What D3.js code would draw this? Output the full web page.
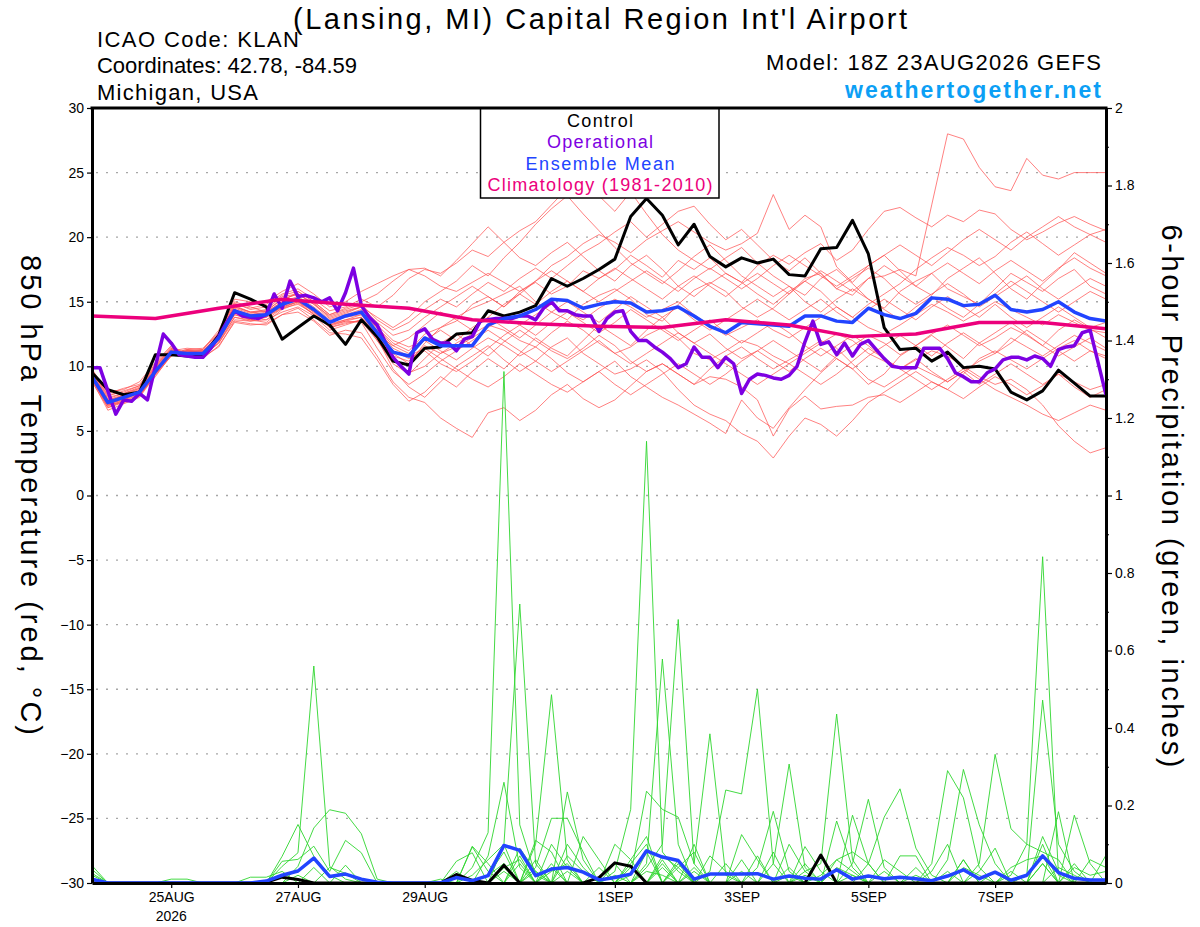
<!DOCTYPE html>
<html>
<head>
<meta charset="utf-8">
<script src="https://cdn.jsdelivr.net/npm/d3@7/dist/d3.min.js"></script>
<style>
  html,body{margin:0;padding:0;background:#fff;}
  svg text{font-family:"Liberation Sans",Arial,Helvetica,sans-serif;}
</style>
</head>
<body>
<svg id="chart" width="1200" height="927"></svg>
<script>
// ---------------- DATA ----------------
const runStart = "2026-08-23T18:00:00Z";
const stepHours = 6;        // ensemble / control / mean
const opStepHours = 3;      // operational run
const climStepHours = 24;   // climatology
const forecastHours = 384;

const tempTicks = [-30,-25,-20,-15,-10,-5,0,5,10,15,20,25,30];
const precipTicks = [0,0.2,0.4,0.6,0.8,1,1.2,1.4,1.6,1.8,2];
const precipMinorTicks = [0.1,0.3,0.5,0.7,0.9,1.1,1.3,1.5,1.7,1.9];
const xTickDates = ["2026-08-25T00:00:00Z","2026-08-27T00:00:00Z","2026-08-29T00:00:00Z","2026-09-01T00:00:00Z","2026-09-03T00:00:00Z","2026-09-05T00:00:00Z","2026-09-07T00:00:00Z"];
const xTickLabels = ["25AUG","27AUG","29AUG","1SEP","3SEP","5SEP","7SEP"];

const legendLabels = ["Control","Operational","Ensemble Mean","Climatology (1981-2010)"];

// 850 hPa temperature, control run (6-hourly)
const controlTemp = [9.5,8.2,7.8,8.0,10.9,10.9,10.8,10.8,12.4,15.7, 15.2,14.6,12.1,13.0,13.9,13.2,11.7,13.6,12.3,10.4, 10.1,11.4,11.5,12.5,12.6,14.3,13.9,14.2,14.7,16.8, 16.2,16.8,17.5,18.3,21.6,23.0,21.7,19.4,21.0,18.5, 17.7,18.4,18.0,18.3,17.1,17.0,19.1,19.2,21.3,18.7, 13.0,11.3,11.4,10.4,11.1,9.9,10.0,9.8,8.0,7.4, 8.1,9.7,8.7,7.7,7.7];

// ensemble mean (6-hourly)
const meanTemp = [9.2,7.2,7.6,8.0,9.6,11.1,11.0,11.0,12.2,14.3, 13.9,14.0,14.8,15.2,14.4,13.4,13.9,14.2,12.6,11.1, 10.8,12.2,11.6,11.6,11.6,13.2,13.7,13.9,14.4,15.2, 15.1,14.5,14.8,15.0,14.9,14.2,14.3,14.6,13.9,13.1, 12.6,13.4,13.3,13.2,13.1,13.9,13.9,13.5,13.4,14.5, 14.0,13.7,14.1,15.3,15.2,14.7,14.8,15.5,14.4,14.2, 14.4,15.0,14.2,13.7,13.5];

// operational (3-hourly)
const operationalTemp = [9.9,9.9,8.1,6.3,7.4,7.3,7.9,7.4,10.0,12.5, 11.8,10.9,10.8,10.7,10.7,11.4,12.3,13.4,14.3,13.9, 13.8,13.7,14.0,15.6,14.5,16.6,15.4,15.5,15.3,15.0, 15.3,14.3,15.7,17.6,14.7,13.8,13.2,11.9,10.7,10.0, 9.4,12.6,12.9,12.1,11.8,11.8,11.2,12.1,12.3,13.5, 13.6,13.7,13.7,13.7,13.9,13.9,13.6,14.5,15.0,14.3, 14.3,14.0,13.9,13.9,12.7,13.7,14.2,14.3,12.7,12.0, 12.0,11.5,11.1,10.6,9.9,10.2,11.5,10.7,10.7,9.9, 10.7,10.2,7.9,9.0,9.4,9.3,9.1,9.0,9.3,10.0, 11.9,13.5,11.7,11.9,10.9,11.8,10.8,11.7,12.0,11.3, 10.6,10.0,9.9,9.9,9.9,11.4,11.4,11.4,10.6,9.5, 9.2,8.8,8.8,9.5,9.8,10.5,10.7,10.7,10.5,10.8, 10.6,10.0,11.3,11.5,11.6,12.6,12.8,10.3,7.8];

// climatology 1981-2010 (daily)
const climTemp = [13.9,13.7,14.5,15.2,14.8,14.5,13.6,13.3,13.1,13.0,13.6,13.2,12.3,12.5,13.4,13.4,12.9];

// ensemble members, 850 hPa temperature (6-hourly)
const memberTemps = [
 [9.0,7.0,7.3,8.2,9.8,11.0,11.2,11.1,12.5,14.6, 14.2,14.4,15.4,15.6,14.8,13.9,14.3,14.6,13.0,11.8, 11.2,12.5,13.0,13.8,14.5,15.0,15.6,16.2,15.0,14.2, 13.6,14.8,15.5,16.0,15.2,14.0,13.5,14.8,15.9,16.5, 15.8,14.6,13.8,14.5,15.6,16.8,17.2,16.0,15.5,16.8, 17.0,17.5,17.0,22.5,28.0,27.6,25.4,23.9,23.6,26.1, 24.8,24.5,25.0,25.0,25.0],
 [9.4,7.5,7.9,8.3,9.9,11.3,11.0,10.9,12.0,14.0, 13.7,13.8,14.6,15.0,14.2,13.0,13.4,13.5,12.0,10.5, 9.5,10.0,11.0,11.8,12.5,13.2,12.8,12.0,11.5,12.6, 13.5,12.8,11.8,11.0,11.5,12.4,13.0,12.2,11.0,10.5, 11.2,12.0,11.6,10.8,10.2,11.0,11.8,12.5,12.0,11.0, 10.4,9.8,10.5,11.2,10.8,10.0,9.2,8.6,9.0,8.2, 7.0,5.4,4.2,3.3,3.7],
 [8.8,6.8,7.2,7.7,9.4,10.8,11.1,11.2,12.3,14.8, 14.5,14.8,15.6,16.0,15.2,14.3,14.6,15.2,14.6,15.5, 16.8,17.5,17.2,18.0,19.0,18.5,19.6,20.5,21.2,22.5, 23.8,24.5,23.2,22.0,23.5,21.8,20.2,19.0,18.2,17.5, 18.4,19.2,18.0,17.0,16.2,15.5,16.8,17.5,16.4,15.2, 14.5,15.8,16.6,17.2,16.0,15.4,14.8,16.0,17.2,16.5, 15.8,16.8,17.5,16.2,15.6],
 [9.6,7.8,8.0,8.5,10.1,11.4,11.0,10.8,11.8,13.6, 13.5,13.6,14.2,14.6,13.9,12.8,13.2,13.6,12.2,9.8, 8.4,7.6,8.8,10.0,10.8,11.6,10.5,9.6,10.4,11.5, 12.2,11.0,10.2,9.4,9.8,10.5,9.6,8.2,7.0,6.3, 5.8,4.8,4.2,2.9,4.6,6.0,5.5,4.6,5.8,7.2, 8.0,8.8,9.6,8.8,8.2,9.4,10.6,11.2,10.5,9.8, 10.6,11.4,12.0,11.2,10.8],
 [9.1,7.2,7.5,7.9,9.5,11.0,11.3,11.4,12.6,15.0, 14.6,14.2,15.0,15.8,15.0,14.0,14.5,15.0,15.6,16.6, 17.5,17.0,16.2,15.8,16.5,17.2,16.5,15.8,16.6,17.8, 18.5,19.5,20.2,19.6,18.8,19.8,20.5,21.2,20.4,19.6, 19.0,19.5,20.3,23.3,20.6,21.7,20.8,17.7,16.5,17.8, 18.6,17.4,16.2,15.5,16.8,17.6,18.4,17.2,16.0,15.2, 16.4,17.5,18.8,18.0,17.2],
 [9.3,7.4,7.7,8.1,9.7,11.2,10.9,10.8,12.0,14.2, 13.8,13.6,14.5,15.0,14.0,13.2,13.6,14.0,12.8,11.0, 10.2,11.8,13.0,13.5,14.8,15.4,14.6,15.8,16.5,15.6, 16.2,17.4,16.8,17.5,18.6,17.8,16.9,18.2,17.5,18.4, 17.2,16.5,17.8,18.6,17.9,18.8,19.5,18.2,19.0,20.6, 22.0,22.3,21.5,20.8,21.7,21.2,22.1,21.8,20.6,19.8, 20.4,21.1,21.6,21.0,20.5],
 [9.8,7.9,8.3,8.6,10.2,11.5,10.8,10.6,11.6,13.4, 13.2,13.3,14.0,14.2,13.5,12.4,12.8,12.6,10.8,8.8, 7.6,7.2,6.0,5.2,4.5,6.4,6.8,5.8,6.6,7.8, 8.6,7.5,6.8,7.4,8.5,9.6,10.2,9.4,8.6,9.8, 10.8,11.5,10.6,9.8,10.5,11.2,12.0,11.4,10.2,9.0, 8.4,9.2,10.0,9.4,8.8,9.6,10.4,11.0,12.2,11.5, 10.8,11.6,12.4,11.8,11.2],
 [9.0,6.9,7.4,7.8,9.2,10.9,11.2,11.0,12.4,14.4, 14.0,14.2,15.0,15.4,14.6,13.6,14.0,14.4,13.2,12.0, 11.5,12.0,11.2,10.5,11.4,12.2,11.6,10.8,11.5,10.6, 9.5,8.8,9.6,10.4,9.2,8.4,7.6,7.0,6.3,5.6, 4.8,7.4,6.0,5.2,6.8,8.2,9.5,10.6,9.8,8.6, 9.4,10.8,11.6,12.4,11.5,10.6,11.8,12.6,13.4,12.5, 11.6,12.8,13.6,12.9,12.2],
 [9.2,7.1,7.4,8.0,9.7,11.2,11.4,11.3,12.8,15.2, 15.0,15.0,15.8,16.4,15.6,14.6,15.0,15.8,16.4,17.0, 17.5,17.6,17.0,18.2,19.5,20.8,19.6,18.4,17.8,18.8, 19.6,18.5,17.4,16.6,17.8,18.6,17.5,16.2,15.4,16.4, 17.2,16.5,15.6,14.8,15.8,16.6,15.8,14.6,13.8,14.8, 15.6,16.4,17.5,18.4,19.2,18.6,17.8,18.5,19.6,20.4, 19.5,18.6,19.4,20.2,19.6],
 [9.5,7.6,7.9,8.4,10.0,11.3,11.0,11.1,12.1,14.1, 13.8,14.1,14.9,15.2,14.5,13.4,13.8,14.0,12.4,10.8, 10.4,11.6,11.0,11.5,12.2,13.0,13.8,13.2,14.0,14.8, 14.2,13.6,14.5,15.2,14.6,13.8,14.4,15.0,14.0,13.2, 12.4,13.0,13.6,12.8,12.2,13.0,13.8,14.6,13.8,13.0, 12.5,13.2,14.0,14.8,14.2,13.5,14.2,15.0,14.4,13.8, 13.2,14.0,13.4,12.8,12.6],
 [9.7,8.0,8.2,8.8,10.3,11.6,10.9,10.7,11.5,13.5, 13.3,13.2,14.0,14.5,13.6,12.6,12.5,12.2,10.5,8.6, 7.3,8.0,9.2,8.4,9.6,10.6,9.8,11.0,12.2,11.4, 10.8,12.0,13.2,12.4,11.6,12.8,13.8,12.6,11.8,12.5, 11.4,10.6,11.2,12.0,11.2,10.4,9.6,10.8,11.6,12.4, 11.8,10.9,11.6,12.5,13.2,12.4,11.6,12.2,13.0,12.4, 11.6,10.8,11.5,12.2,11.4],
 [8.9,6.6,7.1,7.6,9.3,10.8,11.2,11.3,12.6,14.9, 14.4,14.6,15.5,15.8,15.0,14.0,14.4,14.8,13.6,12.8, 13.4,14.4,15.2,14.6,15.6,16.5,15.8,16.8,17.6,16.8, 17.8,18.8,19.5,20.4,21.2,20.0,21.0,22.0,22.4,21.0, 19.8,20.6,19.4,18.2,17.4,18.4,17.2,16.0,16.8,17.6, 16.8,15.6,14.8,15.6,16.4,15.6,14.6,15.4,16.2,17.0, 16.0,15.2,16.0,16.8,16.2],
 [9.4,7.3,7.6,8.1,9.6,11.1,11.1,10.9,12.1,14.2, 13.6,13.9,14.7,15.1,14.2,13.3,13.6,13.8,12.0,10.2, 9.4,10.6,11.8,12.5,11.6,10.8,11.9,12.8,12.0,11.2, 10.6,11.4,12.4,11.6,10.4,9.6,10.2,9.4,8.6,9.2, 9.0,8.4,7.4,4.6,6.7,7.7,6.7,6.9,7.0,7.6, 7.8,7.2,8.0,8.8,8.2,7.5,8.4,9.2,8.6,7.8, 8.5,9.4,8.8,8.2,8.6],
 [9.0,7.0,7.5,7.9,9.5,11.0,11.3,11.2,12.4,14.5, 14.1,14.3,15.2,15.6,14.9,13.8,14.2,14.6,13.8,13.0, 13.8,15.0,15.8,16.6,17.8,17.0,18.4,19.6,21.0,22.2, 23.2,21.8,20.5,19.2,18.0,17.2,16.4,17.4,18.5,19.4, 18.2,17.0,16.2,15.4,16.2,15.0,14.2,15.2,16.0,15.2, 14.4,13.6,14.6,15.4,14.5,13.8,14.8,15.6,16.6,15.8, 15.0,14.2,15.0,15.8,15.2],
 [9.3,7.2,7.8,8.2,9.8,11.2,11.0,10.9,12.0,14.0, 13.6,13.9,14.6,15.0,14.3,13.2,13.5,13.8,12.6,11.2, 10.6,11.2,10.2,9.6,10.4,11.4,12.4,13.2,12.4,13.4, 14.2,13.4,12.6,13.4,14.4,13.6,12.8,12.0,12.8,13.6, 12.6,11.8,12.6,13.4,12.6,11.6,10.8,11.6,12.4,11.6, 10.6,9.8,10.6,9.6,8.8,9.6,8.6,9.4,10.2,9.4, 8.6,9.4,8.4,7.6,8.2],
 [9.1,7.0,7.2,7.7,9.4,10.9,11.2,11.2,12.4,14.6, 14.2,14.0,14.8,15.3,14.4,13.4,13.9,14.3,12.9,11.4, 10.8,11.4,10.6,9.8,9.0,8.4,9.2,10.2,9.4,8.6, 8.0,8.8,9.6,8.6,7.8,8.6,9.4,10.2,9.4,8.6, 9.4,10.4,11.2,10.4,9.6,10.6,11.4,10.6,9.8,10.8, 11.6,12.4,11.6,10.8,11.8,12.6,11.8,11.0,11.8,12.8, 12.0,11.2,10.4,11.2,10.6],
 [9.6,7.7,8.1,8.5,10.0,11.4,10.9,10.7,11.9,13.8, 13.5,13.8,14.5,14.8,14.1,13.0,13.3,13.6,12.4,11.6, 12.2,13.2,14.2,13.6,12.8,13.8,14.8,15.6,14.8,15.8, 16.6,15.8,15.0,15.8,16.6,17.4,16.6,15.8,16.8,17.6, 16.8,16.0,16.8,17.8,18.6,17.8,17.0,16.2,17.0,17.8, 18.6,19.4,18.6,17.8,18.8,19.8,20.6,19.8,19.0,20.0, 20.8,21.6,20.8,20.2,20.6],
 [9.2,7.3,7.7,8.0,9.6,11.1,11.1,11.0,12.2,14.3, 13.9,14.0,14.8,15.2,14.4,13.4,13.9,14.2,13.0,11.6, 11.0,12.0,12.8,12.0,13.0,13.8,13.0,12.2,13.2,14.2, 15.0,14.2,13.4,14.4,15.4,14.6,13.8,14.6,13.6,12.8, 13.6,14.4,15.2,14.4,13.6,14.4,15.2,14.2,13.4,14.4, 15.2,14.4,13.6,14.6,15.4,14.6,13.8,14.8,13.8,13.0, 13.8,14.6,13.8,13.0,13.4],
 [9.5,7.4,7.8,8.3,9.9,11.2,10.8,10.8,11.8,13.8, 13.6,13.4,14.4,14.9,14.0,13.1,13.5,13.4,11.4,9.6, 8.6,9.4,10.4,11.2,12.0,12.8,12.0,11.2,10.4,9.6, 10.4,11.2,12.0,11.0,10.2,11.0,11.8,12.6,11.8,11.0, 10.2,9.4,8.6,9.4,10.2,9.4,8.6,9.4,10.4,11.4, 10.6,9.8,9.0,8.2,9.0,9.8,9.0,8.2,7.6,7.0, 6.3,5.8,6.4,7.0,6.6],
 [9.0,6.8,7.3,7.8,9.4,11.0,11.2,11.1,12.5,14.7, 14.2,14.3,15.2,15.6,14.8,13.7,14.1,14.6,13.4,12.4, 12.8,13.8,14.6,15.4,16.2,15.4,14.6,15.6,16.6,17.4, 16.6,15.8,16.8,17.6,16.8,16.0,15.2,16.2,17.0,16.2, 15.4,16.4,17.2,16.4,15.6,16.6,17.4,16.6,15.8,16.8, 17.8,17.0,16.2,17.2,18.0,17.2,16.4,17.4,18.2,17.4, 16.6,17.6,18.4,17.6,17.0]
];

// 6-hour precipitation (inches), control and ensemble mean
const controlPrecip = [0,0,0,0,0, 0,0,0,0,0, 0,.002,.015,.009,0, 0,0,0,0,0, 0,0,0,.022,.007, 0,.046,0,0,0, 0,0,.014,.052,.043, 0,0,0,0,0, 0,0,0,0,0, 0,.072,0,0,0, 0,0,0,0,0, 0,0,0,0,0, 0,0,0,0,0];
const meanPrecip = [.01,0,0,0,0, 0,0,0,0,0, 0,.005,.02,.031,.064, .017,.023,.01,.002,0, 0,0,0,.014,.006, .019,.097,.084,.019,.036, .04,.028,.008,.014,.023, .083,.067,.058,.01,.023, .023,.023,.024,.01,.018, .012,.01,.034,.01,.018, .011,.015,.011,.006,.018, .034,.011,.028,.007,.02, .07,.027,.012,.008,.008];

// ensemble members, 6-hour precipitation (inches)
const memberPrecip = [
 [.045,0,0,0,0, 0,0,0,0,0, 0,0,.043,.078,.56, .043,.01,0,0,0, 0,0,0,0,0, .02,.05,0,0,0, 0,0,0,0,0, .03,.02,0,0,0, 0,0,0,0,.04, 0,0,0,.02,0, 0,0,0,0,0, 0,0,0,0,0, .05,0,0,0,0],
 [.035,0,0,0,0, 0,0,0,0,0, 0,0,.069,.151,.069, .02,0,0,0,0, 0,0,0,0,.04, .13,1.32,.15,.02,0, 0,0,0,0,.05, .1,0,0,0,0, 0,.03,0,0,0, 0,0,0,0,0, 0,0,0,0,0, .06,0,0,0,0, 0,0,0,0,0],
 [.025,0,0,0,0, 0,0,0,0,0, 0,0,0,.043,.142, .189,.18,.127,.01,0, 0,0,0,0,0, 0,.1,.72,.05,0, 0,0,0,.02,0, 0,.07,.04,0,0, 0,0,0,0,0, 0,0,0,0,0, 0,0,0,0,.03, 0,0,0,0,0, .1,0,0,0,0],
 [0,0,0,0,0, 0,0,0,0,0, 0,0,.056,.061,.095, .03,.11,.078,0,0, 0,0,0,.056,.078, 0,0,0,.1,.486, .06,0,0,0,0, 0,0,0,.04,0, 0,0,0,0,0, 0,0,.16,.04,0, 0,0,0,0,0, 0,0,0,0,0, 0,0,0,0,0],
 [0,0,0,0,0, 0,0,0,0,0, .015,.015,.03,0,.04, 0,.046,0,0,0, 0,0,0,0,.095, .05,0,0,0,0, 0,0,0,.03,.19, 1.14,.08,.03,0,0, 0,0,0,0,0, 0,0,0,0,.05, 0,0,0,0,0, 0,0,0,0,0, 0,.184,0,0,0],
 [.02,0,0,0,0, .01,.01,0,0,0, 0,0,0,.02,0, 0,0,0,0,0, 0,0,0,0,0, .07,.26,.04,0,0, 0,0,0,0,0, .04,.1,.68,.05,0, 0,0,0,0,.02, 0,0,0,0,0, 0,0,0,0,0, 0,.03,.09,0,0, 0,0,0,0,0],
 [0,0,0,0,0, 0,0,0,0,0, 0,0,0,0,0, 0,0,0,0,0, 0,0,0,0,.093, .03,0,0,.04,.167, .167,.08,0,0,0, .05,.578,.1,0,0, 0,0,0,0,0, .094,.03,0,0,0, 0,0,0,0,0, 0,0,0,0,0, 0,0,.175,.05,0],
 [0,0,0,0,0, 0,0,0,0,0, 0,0,0,0,0, 0,0,0,0,0, 0,0,0,0,0, 0,.04,.06,0,0, .235,.06,0,0,0, 0,0,0,0,.03, .24,.23,.5,.05,0, 0,0,0,0,0, 0,0,.02,0,0, 0,0,0,.04,.06, .07,0,0,0,.072],
 [0,0,0,0,0, 0,0,0,0,0, 0,0,0,0,0, 0,0,0,0,0, 0,0,0,0,0, .02,.08,0,.03,0, 0,0,0,0,.02, .237,.19,.17,.05,.385, .02,0,0,0,0, 0,0,0,0,0, 0,0,0,.03,.1, 0,0,0,0,0, 0,0,0,0,0],
 [0,0,0,0,0, 0,0,0,0,0, 0,0,0,0,0, 0,0,0,0,0, 0,0,0,0,0, 0,0,.05,0,.03, .05,0,0,.1,.06, 0,0,0,0,0, 0,0,.04,.185,.03, 0,0,0,0,0, 0,0,0,0,0, 0,0,0,.02,.1, .842,.02,0,0,0],
 [0,0,0,0,0, 0,0,0,0,0, 0,0,0,0,0, 0,0,0,0,0, 0,0,0,0,0, 0,0,0,0,.04, 0,.12,.06,0,0, 0,.05,0,0,0, 0,.125,.06,0,0, 0,0,.04,.02,0, 0,0,0,0,0, 0,0,0,0,.02, .472,.1,.03,0,0],
 [0,0,0,0,0, 0,0,0,0,0, 0,0,0,0,0, 0,0,0,0,0, 0,0,0,0,0, 0,.05,0,.11,.08, 0,0,0,0,0, 0,0,.04,.08,0, 0,0,0,0,.1, .03,.05,.436,.06,0, 0,0,0,0,0, .04,.02,0,0,0, 0,0,0,0,0],
 [0,0,0,0,0, 0,0,0,0,0, 0,0,0,0,0, 0,0,0,0,0, 0,0,0,.03,0, 0,0,.07,0,0, .1,.04,0,0,0, .08,0,0,0,0, 0,0,0,.05,.307, .04,0,0,.05,.216, .04,0,0,0,0, 0,0,0,.03,0, 0,0,0,0,0],
 [0,0,0,0,0, 0,0,0,0,0, 0,0,0,0,0, 0,0,0,0,0, 0,0,0,0,0, 0,.03,0,0,.05, 0,0,.04,0,0, 0,0,.06,0,.07, .03,0,0,0,0, 0,0,0,.175,.05, 0,0,0,0,0, 0,.05,.332,.14,.1, .08,.06,0,0,0],
 [0,0,0,0,0, 0,0,0,0,0, 0,0,0,0,0, 0,0,0,0,0, 0,0,0,0,0, 0,0,.09,.03,0, 0,0,0,0,0, 0,.04,0,.1,0, 0,0,0,0,0, 0,0,.06,.03,0, 0,0,0,.05,.29, .22,.04,0,0,0, 0,0,.05,0,0],
 [0,0,0,0,0, 0,0,0,0,0, 0,0,0,0,0, 0,0,0,0,0, 0,0,0,0,0, 0,0,0,0,0, .07,.03,0,0,.06, .12,0,0,0,0, 0,0,0,0,0, .03,0,0,0,0, 0,.07,.07,0,.06, .293,.15,.05,0,0, 0,0,0,.06,.04],
 [0,0,0,0,0, 0,0,0,0,0, 0,0,0,0,0, 0,0,0,0,0, 0,0,0,0,0, 0,.04,0,.06,0, 0,0,0,0,0, 0,0,0,.03,0, 0,.06,0,0,0, 0,.02,.06,.08,.05, .17,.243,.09,.02,0, 0,0,0,0,0, .12,.03,0,0,0],
 [0,0,0,0,0, 0,0,0,0,0, 0,0,0,0,0, 0,0,0,0,0, 0,0,0,0,0, 0,0,0,0,.1, .04,0,0,.05,0, 0,0,0,0,0, .05,0,0,.08,0, 0,0,0,0,0, .03,0,.04,0,0, 0,0,0,0,0, .05,0,.04,.02,.03],
 [0,0,0,0,0, 0,0,0,0,0, 0,0,0,0,0, 0,0,0,0,0, 0,0,0,0,.02, .06,.1,0,0,0, 0,0,0,0,0, 0,0,.05,0,0, 0,0,.07,0,0, .05,0,0,0,0, 0,0,0,0,0, .06,0,.03,0,0, 0,0,0,0,0],
 [0,0,0,0,0, 0,0,0,0,0, 0,0,0,0,0, .04,.025,0,0,0, 0,0,.01,0,0, 0,0,0,0,0, .03,0,0,0,.04, 0,.06,0,0,0, 0,0,0,0,0, .02,0,0,0,0, .06,.03,0,0,0, 0,0,0,0,0, 0,.04,.02,0,0]
];

// ---------------- COLOURS ----------------
const C = {
  member:"#ff5050", precip:"#2fd62f", control:"#000000",
  oper:"#7d00e2", mean:"#2244ff", clim:"#ec007c", site:"#0c9ff5"
};

// ---------------- CHART ----------------
const svg = d3.select("#chart");
const L = 92, R = 1106, T = 108, B = 883;
const t0 = new Date(runStart);
const atHour = h => new Date(t0.getTime() + h * 3600e3);

const x = d3.scaleUtc().domain([t0, atHour(forecastHours)]).range([L, R]);
const yT = d3.scaleLinear().domain([-30, 30]).range([B, T]);
const yP = d3.scaleLinear().domain([0, 2]).range([B, T]);

svg.append("rect").attr("width", 1200).attr("height", 927).attr("fill", "#fff");
svg.append("defs").append("clipPath").attr("id", "plotclip")
  .append("rect").attr("x", L).attr("y", T).attr("width", R - L).attr("height", B - T);

// gridlines
svg.append("g").selectAll("line")
  .data(tempTicks.filter(v => v > -30 && v < 30)).join("line")
  .attr("x1", L + 4).attr("x2", R).attr("y1", d => yT(d)).attr("y2", d => yT(d))
  .attr("stroke", "#a6a6a6").attr("stroke-width", 1.4).attr("stroke-dasharray", "2,8");

const plot = svg.append("g").attr("clip-path", "url(#plotclip)");
const tLine = step => d3.line().x((d, i) => x(atHour(i * step))).y(d => yT(d));
const pLine = d3.line().x((d, i) => x(atHour(i * stepHours))).y(d => yP(d));

plot.append("g").selectAll("path").data(memberTemps).join("path")
  .attr("d", tLine(stepHours)).attr("fill", "none")
  .attr("stroke", C.member).attr("stroke-width", 0.8).attr("stroke-opacity", 0.9);

plot.append("g").selectAll("path").data(memberPrecip).join("path")
  .attr("d", pLine).attr("fill", "none")
  .attr("stroke", C.precip).attr("stroke-width", 0.9);

plot.append("path").datum(controlPrecip).attr("d", pLine).attr("fill", "none")
  .attr("stroke", C.control).attr("stroke-width", 3).attr("stroke-linejoin", "round");
plot.append("path").datum(meanPrecip).attr("d", pLine).attr("fill", "none")
  .attr("stroke", C.mean).attr("stroke-width", 3.5).attr("stroke-linejoin", "round");

plot.append("path").datum(controlTemp).attr("d", tLine(stepHours)).attr("fill", "none")
  .attr("stroke", C.control).attr("stroke-width", 3).attr("stroke-linejoin", "round");
plot.append("path").datum(operationalTemp).attr("d", tLine(opStepHours)).attr("fill", "none")
  .attr("stroke", C.oper).attr("stroke-width", 3.5).attr("stroke-linejoin", "round");
plot.append("path").datum(meanTemp).attr("d", tLine(stepHours)).attr("fill", "none")
  .attr("stroke", C.mean).attr("stroke-width", 3.5).attr("stroke-linejoin", "round");
plot.append("path").datum(climTemp).attr("d", tLine(climStepHours)).attr("fill", "none")
  .attr("stroke", C.clim).attr("stroke-width", 3.5).attr("stroke-linejoin", "round");

// legend
const lg = svg.append("g");
lg.append("rect").attr("x", 480.5).attr("y", 108).attr("width", 238.5).attr("height", 90)
  .attr("fill", "#fff").attr("stroke", "#000").attr("stroke-width", 1.5);
const legendColors = [C.control, C.oper, C.mean, C.clim];
const legendWidths = [66, 106, 149, 225];
lg.selectAll("text").data(legendLabels).join("text")
  .attr("x", 600).attr("y", (d, i) => 127 + i * 21.4)
  .attr("text-anchor", "middle").attr("font-size", 18)
  .attr("fill", (d, i) => legendColors[i])
  .attr("textLength", (d, i) => legendWidths[i]).attr("lengthAdjust", "spacing")
  .text(d => d);

// axes
const fontFam = '"Liberation Sans",Arial,Helvetica,sans-serif';
const axL = svg.append("g").attr("transform", `translate(${L},0)`)
  .call(d3.axisLeft(yT).tickValues(tempTicks).tickSize(5).tickSizeOuter(0).tickPadding(3));
const axR = svg.append("g").attr("transform", `translate(${R},0)`)
  .call(d3.axisRight(yP).tickValues(precipTicks).tickSize(6).tickSizeOuter(0).tickPadding(3)
    .tickFormat(d => String(Math.round(d * 10) / 10)));
const axRm = svg.append("g").attr("transform", `translate(${R},0)`)
  .call(d3.axisRight(yP).tickValues(precipMinorTicks).tickSize(3).tickSizeOuter(0).tickFormat(""));
axRm.select(".domain").remove();
const axB = svg.append("g").attr("transform", `translate(0,${B})`)
  .call(d3.axisBottom(x).tickValues(xTickDates.map(d => new Date(d))).tickSize(5).tickSizeOuter(0).tickPadding(4)
    .tickFormat((d, i) => xTickLabels[i]));
[axL, axR, axB].forEach(a => {
  a.attr("font-size", 14).attr("font-family", fontFam);
  a.select(".domain").attr("stroke-width", 3);
  a.selectAll(".tick line").attr("stroke-width", 1.2);
});
svg.append("line").attr("x1", L - 1.5).attr("x2", R + 1.5).attr("y1", T).attr("y2", T)
  .attr("stroke", "#000").attr("stroke-width", 3);
svg.append("text").attr("x", x(new Date(xTickDates[0]))).attr("y", 921)
  .attr("text-anchor", "middle").attr("font-size", 14).text("2026");

// titles and header texts
svg.append("text").attr("x", 600).attr("y", 29).attr("text-anchor", "middle")
  .attr("font-size", 29).attr("textLength", 614).attr("lengthAdjust", "spacing")
  .text("(Lansing, MI) Capital Region Int'l Airport");
const leftInfo = [["ICAO Code: KLAN", 47, 202], ["Coordinates: 42.78, -84.59", 73, 260], ["Michigan, USA", 100, 161]];
svg.append("g").selectAll("text").data(leftInfo).join("text")
  .attr("x", 97).attr("y", d => d[1]).attr("font-size", 22)
  .attr("textLength", d => d[2]).attr("lengthAdjust", "spacing").text(d => d[0]);
svg.append("text").attr("x", 1101).attr("y", 70).attr("text-anchor", "end")
  .attr("font-size", 22).attr("textLength", 335).attr("lengthAdjust", "spacing")
  .text("Model: 18Z 23AUG2026 GEFS");
svg.append("text").attr("x", 1101).attr("y", 98).attr("text-anchor", "end")
  .attr("font-size", 23).attr("font-weight", "bold").attr("fill", C.site)
  .attr("textLength", 256).attr("lengthAdjust", "spacing")
  .text("weathertogether.net");

// axis titles
svg.append("text").attr("transform", "translate(21,495) rotate(90)")
  .attr("text-anchor", "middle").attr("font-size", 29)
  .attr("textLength", 480).attr("lengthAdjust", "spacing")
  .text("850 hPa Temperature (red, °C)");
svg.append("text").attr("transform", "translate(1162,496) rotate(90)")
  .attr("text-anchor", "middle").attr("font-size", 29)
  .attr("textLength", 543).attr("lengthAdjust", "spacing")
  .text("6-hour Precipitation (green, inches)");
</script>
</body>
</html>
